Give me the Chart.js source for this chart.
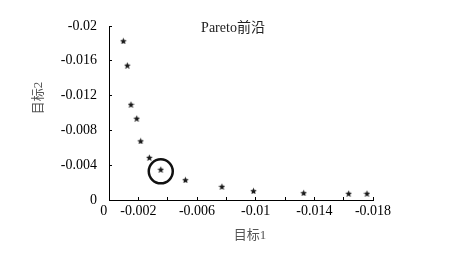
<!DOCTYPE html>
<html lang="zh">
<head>
<meta charset="UTF-8">
<title>Pareto前沿</title>
<script src="https://cdn.jsdelivr.net/npm/chart.js@4.4.0/dist/chart.umd.min.js"></script>
<style>
  html, body { margin: 0; padding: 0; background: #fff; }
</style>
</head>
<body>
<canvas id="pareto" width="451" height="254"></canvas>
<script>
// Pareto front: objective 1 vs objective 2
const obj1 = [-0.00098, -0.00125, -0.0015, -0.00189, -0.00216, -0.00275, -0.00353, -0.00521, -0.0077, -0.00985, -0.01327, -0.01634, -0.01759];
const obj2 = [-0.0183, -0.0155, -0.0110, -0.0094, -0.0068, -0.0049, -0.00353, -0.00233, -0.00157, -0.00107, -0.00084, -0.00077, -0.00077];
// the circled (chosen) solution
const pickX = [-0.00353];
const pickY = [-0.0033];

const xTickLabels = ['0', '-0.002', '-0.006', '-0.01', '-0.014', '-0.018'];
const yTickLabels = ['0', '-0.004', '-0.008', '-0.012', '-0.016', '-0.02'];
const chartTitle = 'Pareto前沿';
const xTitle = '目标1';
const yTitle = '目标2';

const serif = '"Liberation Serif", "Noto Sans CJK SC", serif';

// little filled five point star used as marker
function starImage(size, color) {
    const c = document.createElement('canvas');
    c.width = size; c.height = size;
    const g = c.getContext('2d');
    const r = size / 2, ri = r * 0.47;
    g.beginPath();
    for (let i = 0; i < 10; i++) {
        const a = -Math.PI / 2 + i * Math.PI / 5;
        const rr = i % 2 ? ri : r;
        g.lineTo(r + rr * Math.cos(a), r + 0.6 + rr * Math.sin(a));
    }
    g.closePath();
    g.fillStyle = color;
    g.fill();
    return c;
}

function pickLabel(list, zeroPad) {
    return function (v) {
        const hit = list.find(s => Math.abs(parseFloat(s) - v) < 1e-9);
        if (hit === undefined) return '';
        // the "0" under the x axis sits a bit left of its tick in the original
        return (hit === '0' && zeroPad) ? hit + zeroPad : hit;
    };
}

// axis titles + in-plot title
const textPlugin = {
    id: 'texts',
    afterDraw(chart) {
        const { ctx, chartArea } = chart;
        ctx.save();
        ctx.textAlign = 'center';
        ctx.textBaseline = 'middle';
        ctx.font = '14px ' + serif;
        ctx.fillStyle = '#222';
        ctx.fillText(chartTitle, chartArea.left + 124, chartArea.top + 2);
        ctx.font = '13px ' + serif;
        ctx.fillStyle = '#555';
        ctx.fillText(xTitle, (chartArea.left + chartArea.right) / 2 + 9, chartArea.bottom + 36);
        ctx.translate(39, chartArea.top + 72);
        ctx.rotate(-Math.PI / 2);
        ctx.fillText(yTitle, 0, 0);
        ctx.restore();
    }
};

const ctx = document.getElementById('pareto').getContext('2d');
const paretoChart = new Chart(ctx, {
    type: 'scatter',
    data: {
        datasets: [{
            label: 'front',
            data: obj1.map((v, i) => ({ x: v, y: obj2[i] })),
            pointStyle: starImage(7, '#1a1a1a'),
            pointRadius: 4
        }, {
            label: 'chosen',
            data: pickX.map((v, i) => ({ x: v, y: pickY[i] })),
            pointStyle: 'circle',
            pointRadius: 12,
            borderWidth: 2.5,
            borderColor: '#111',
            backgroundColor: 'rgba(0,0,0,0)'
        }]
    },
    options: {
        responsive: false,
        animation: false,
        events: [],
        layout: { padding: { left: 0, right: 78, top: 26, bottom: 0 } },
        plugins: { legend: { display: false }, tooltip: { enabled: false } },
        scales: {
            x: {
                type: 'linear',
                min: -0.018,
                max: 0,
                reverse: true,
                afterFit: s => { s.height = 54; },
                ticks: {
                    stepSize: 0.002,
                    autoSkip: false,
                    maxRotation: 0,
                    padding: 6,
                    color: '#000',
                    font: { size: 14, family: serif },
                    callback: pickLabel(xTickLabels, '   ')
                },
                grid: { drawOnChartArea: false, tickLength: -3, color: '#000' },
                border: { color: '#000', width: 1 }
            },
            y: {
                type: 'linear',
                min: -0.02,
                max: 0,
                reverse: true,
                afterFit: s => { s.width = 109; },
                ticks: {
                    stepSize: 0.004,
                    autoSkip: false,
                    padding: 15,
                    color: '#000',
                    font: { size: 14, family: serif },
                    callback: pickLabel(yTickLabels)
                },
                grid: { drawOnChartArea: false, tickLength: -3, color: '#000' },
                border: { color: '#000', width: 1 }
            }
        }
    },
    plugins: [textPlugin]
});
</script>
</body>
</html>
